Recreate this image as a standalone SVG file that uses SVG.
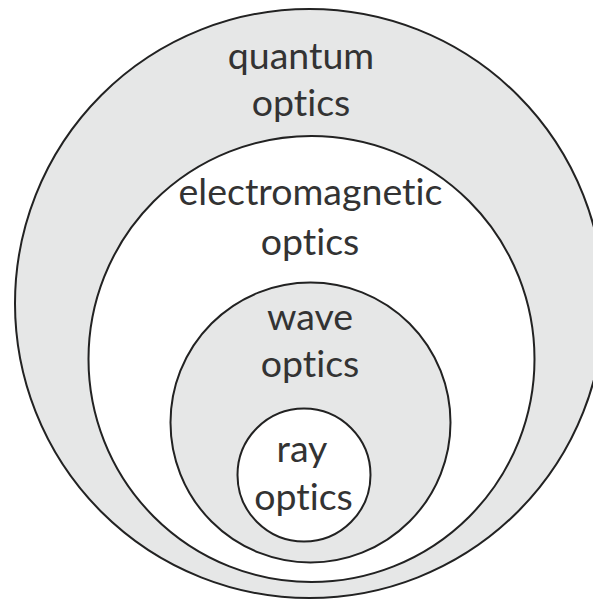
<svg xmlns="http://www.w3.org/2000/svg" width="593" height="601" viewBox="0 0 593 601">
<style>
.ring{stroke:#222;stroke-width:2}
.grey{fill:#e6e7e7}
.white{fill:#fff}
text{font-family:Lato,"Open Sans","DejaVu Sans",sans-serif;font-size:37.5px;fill:#333;text-anchor:middle;font-variant-ligatures:none;font-feature-settings:"liga" 0,"clig" 0}
</style>
<rect width="593" height="601" fill="#fff"/>
<g id="quantum">
<circle class="ring grey" cx="309.5" cy="303.5" r="294.5"/>
<text x="301" y="69">quantum</text>
<text x="301" y="116">optics</text>
</g>
<g id="electromagnetic">
<circle class="ring white" cx="311.5" cy="359" r="223"/>
<text x="310.5" y="205">electromagnetic</text>
<text x="310" y="255">optics</text>
</g>
<g id="wave">
<circle class="ring grey" cx="310.5" cy="422.5" r="140"/>
<text x="310" y="330">wave</text>
<text x="310" y="377">optics</text>
</g>
<g id="ray">
<circle class="ring white" cx="304" cy="475" r="66.5"/>
<text x="302" y="462">ray</text>
<text x="303.5" y="510">optics</text>
</g>
<g id="connectors"></g>
</svg>
